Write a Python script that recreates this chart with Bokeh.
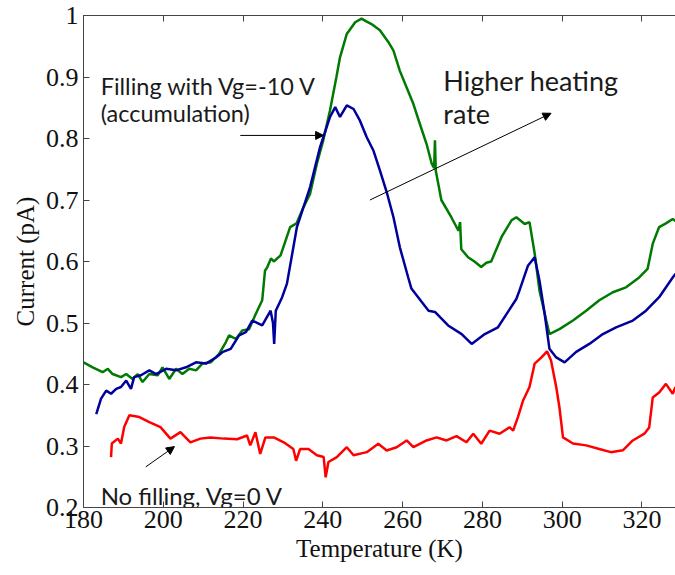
from bokeh.plotting import figure
from bokeh.models import (Range1d, FixedTicker, LinearAxis, Label, Arrow, NormalHead)
from bokeh.embed import file_html
from bokeh.resources import INLINE

# ---------------- data ----------------
green_T = [180.0, 182.3, 184.8, 186.1, 187.3, 189.4, 190.7, 192.3, 193.6, 194.8, 196.5, 198.6,
           199.8, 201.5, 203.2, 204.8, 206.5, 208.2, 209.8, 211.9, 214.0, 215.7, 216.5, 218.2,
           219.8, 221.5, 223.2, 224.8, 225.5, 226.0, 227.0,
           227.7, 229.4, 231.8, 233.4, 235.1, 236.8, 238.5, 240.1, 241.8, 243.4, 244.3, 246.0,
           248.1, 249.7, 251.0, 252.2, 254.3, 256.4, 257.7, 259.3, 261.0, 262.7, 264.3, 266.0,
           267.3, 267.9, 268.1, 268.3, 269.7, 272.2, 274.0, 274.4, 274.7, 276.4, 278.0, 279.7,
           281.0, 282.2, 284.8, 287.3, 288.5, 290.6, 291.8, 293.1, 294.3, 296.0, 296.8, 299.3,
           302.7, 306.0, 309.3, 312.7, 316.0, 319.3, 321.4, 322.7, 324.3, 326.0, 327.7, 328.4]
green_I = [0.436, 0.428, 0.42, 0.4255, 0.417, 0.412, 0.417, 0.409, 0.417, 0.404, 0.417, 0.415,
           0.428, 0.409, 0.4255, 0.417, 0.4255, 0.423, 0.434, 0.436, 0.45, 0.469, 0.48, 0.474,
           0.488, 0.49, 0.515, 0.537, 0.585, 0.59, 0.605,
           0.60, 0.61, 0.656, 0.662, 0.688, 0.71, 0.759, 0.797, 0.846, 0.90, 0.932, 0.97,
           0.989, 0.995, 0.99, 0.986, 0.976, 0.957, 0.943, 0.91, 0.883, 0.856, 0.824, 0.791,
           0.759, 0.752, 0.797, 0.748, 0.70, 0.672, 0.65, 0.664, 0.62, 0.607, 0.60, 0.591,
           0.598, 0.60, 0.64, 0.667, 0.672, 0.661, 0.664, 0.613, 0.553, 0.504, 0.482, 0.49,
           0.504, 0.52, 0.537, 0.55, 0.558, 0.574, 0.588, 0.629, 0.656, 0.662, 0.669, 0.666]

blue_T = [183.2, 184.4, 185.7, 186.9, 188.2, 189.4, 190.7, 191.9, 192.7, 194.4, 196.5, 198.2,
          200.7, 203.2, 205.7, 208.2, 210.7, 213.2, 214.8, 216.9, 219.0, 220.7, 222.3, 224.8,
          226.9, 227.5, 227.8, 228.2, 229.8,
          231.0, 233.5, 236.8, 239.3, 241.8, 243.1, 244.3, 246.0, 247.7, 249.3, 251.0, 252.7,
          254.3, 256.0, 257.7, 259.3, 261.4, 262.2, 264.8, 266.5, 268.1, 271.4, 274.8, 277.3,
          280.6, 283.9, 286.4, 288.5, 289.3, 291.4, 293.1, 294.3, 295.6, 296.8, 298.5, 300.6,
          303.5, 306.8, 310.2, 313.5, 317.7, 321.0, 324.3, 327.7, 328.4]
blue_I = [0.352, 0.377, 0.39, 0.385, 0.393, 0.396, 0.4065, 0.393, 0.412, 0.415, 0.423, 0.417,
          0.4255, 0.423, 0.428, 0.436, 0.434, 0.444, 0.4525, 0.458, 0.48, 0.485, 0.504, 0.496,
          0.52, 0.50, 0.466, 0.52, 0.542,
          0.564, 0.656, 0.721, 0.786, 0.835, 0.851, 0.835, 0.854, 0.848, 0.829, 0.802, 0.78,
          0.748, 0.713, 0.672, 0.623, 0.574, 0.556, 0.534, 0.52, 0.518, 0.496, 0.482, 0.466,
          0.482, 0.493, 0.518, 0.539, 0.553, 0.593, 0.607, 0.569, 0.515, 0.458, 0.444, 0.436,
          0.453, 0.466, 0.482, 0.493, 0.504, 0.52, 0.542, 0.574, 0.58]

red_T = [186.9, 187.1, 188.6, 189.4, 190.2, 191.5, 194.0, 196.5, 199.3, 201.8, 204.3, 206.8,
         209.3, 211.8, 215.2, 218.5, 221.0, 221.8, 223.1, 224.3, 225.6, 227.7, 230.2, 232.6,
         233.3, 234.3, 236.4, 238.5, 240.2, 240.7, 241.4, 243.5, 246.0, 247.7, 251.0, 253.9,
         256.0, 258.5, 261.0, 262.7, 266.0, 268.5, 271.0, 273.5, 276.0, 277.7, 279.7, 281.8,
         284.3, 286.8, 287.7, 288.9, 290.2,
         291.8, 293.1, 294.8, 296.2, 297.2, 298.5, 299.3, 300.2, 302.7, 306.0, 309.3, 312.2,
         315.2, 317.7, 320.6, 321.8, 322.7, 324.3, 326.0, 327.7, 328.4]
red_I = [0.282, 0.304, 0.312, 0.304, 0.331, 0.35, 0.347, 0.339, 0.3306, 0.312, 0.3225, 0.306,
         0.312, 0.314, 0.312, 0.311, 0.317, 0.301, 0.3225, 0.287, 0.314, 0.314, 0.306, 0.295,
         0.276, 0.295, 0.295, 0.285, 0.282, 0.249, 0.274, 0.282, 0.298, 0.285, 0.29, 0.3036,
         0.2927, 0.298, 0.309, 0.298, 0.309, 0.314, 0.309, 0.316, 0.306, 0.32, 0.3036, 0.325,
         0.32, 0.3306, 0.325, 0.347, 0.374,
         0.396, 0.434, 0.444, 0.454, 0.439, 0.396, 0.363, 0.314, 0.304, 0.301, 0.295, 0.29,
         0.293, 0.309, 0.32, 0.33, 0.379, 0.387, 0.401, 0.385, 0.396]

x_ticks = [180, 200, 220, 240, 260, 280, 300, 320]
y_ticks = [0.2, 0.3, 0.4, 0.5, 0.6, 0.7, 0.8, 0.9, 1.0]
y_tick_labels = ["0.2", "0.3", "0.4", "0.5", "0.6", "0.7", "0.8", "0.9", "1"]

# ---------------- figure ----------------
p = figure(width=675, height=575, output_backend="svg", toolbar_location=None,
           x_range=Range1d(180, 328.4), y_range=Range1d(0.2, 1.0),
           min_border_left=83, min_border_right=0, min_border_top=15, min_border_bottom=68,
           x_axis_label="Temperature (K)", y_axis_label="Current (pA)")
p.outline_line_color = None
p.grid.visible = False
p.background_fill_color = "white"
p.border_fill_color = "white"

axis_color = "#444444"
serif = "Liberation Serif"
for ax in (p.xaxis[0], p.yaxis[0]):
    ax.axis_line_color = axis_color
    ax.major_tick_line_color = axis_color
    ax.major_tick_in = 6
    ax.major_tick_out = 0
    ax.minor_tick_line_color = None
    ax.major_label_text_font = serif
    ax.major_label_text_font_size = "26px"
    ax.major_label_text_color = "#111111"
    ax.axis_label_text_font = serif
    ax.axis_label_text_font_size = "25px"
    ax.axis_label_text_font_style = "normal"
    ax.axis_label_text_color = "#111111"
    ax.axis_label_standoff = 4
p.xaxis[0].major_label_standoff = 3
p.yaxis[0].major_label_standoff = 5

p.xaxis[0].ticker = FixedTicker(ticks=x_ticks)
p.yaxis[0].ticker = FixedTicker(ticks=y_ticks)
p.yaxis[0].major_label_overrides = {t: s for t, s in zip(y_ticks, y_tick_labels)}

top = LinearAxis(ticker=FixedTicker(ticks=x_ticks), axis_line_color=axis_color,
                 major_tick_line_color=axis_color, major_tick_in=6, major_tick_out=0,
                 minor_tick_line_color=None, major_label_text_color=None,
                 major_label_standoff=0)
p.add_layout(top, "above")

# ---------------- curves ----------------
p.line(red_T, red_I, line_color="#ff0000", line_width=2.5)
p.line(green_T, green_I, line_color="#007a00", line_width=2.5)
p.line(blue_T, blue_I, line_color="#00009c", line_width=2.5)

# ---------------- annotations ----------------
sans = "Lato"
txt = dict(text_font=sans, text_color="#1a1a1a", text_baseline="alphabetic")
p.add_layout(Label(x=184.3, y=0.886, text="Filling with Vg=-10 V", text_font_size="23.5px", **txt))
p.add_layout(Label(x=184.3, y=0.841, text="(accumulation)", text_font_size="23.5px", **txt))
p.add_layout(Label(x=270.2, y=0.894, text="Higher heating", text_font_size="27px", **txt))
p.add_layout(Label(x=270.2, y=0.841, text="rate", text_font_size="27px", **txt))
p.add_layout(Label(x=184.3, y=0.2195, text="No filling, Vg=0 V", text_font_size="24px", **txt))

head = dict(size=8, fill_color="black", line_color="black")
p.add_layout(Arrow(end=NormalHead(**head), x_start=219.3, y_start=0.805,
                   x_end=240.2, y_end=0.805, line_width=1, line_color="black"))
p.add_layout(Arrow(end=NormalHead(**head), x_start=251.8, y_start=0.70,
                   x_end=297.2, y_end=0.841, line_width=1, line_color="black"))
p.add_layout(Arrow(end=NormalHead(**head), x_start=195.6, y_start=0.266,
                   x_end=202.8, y_end=0.299, line_width=1, line_color="black"))

open("out.html", "w").write(file_html(p, INLINE))
